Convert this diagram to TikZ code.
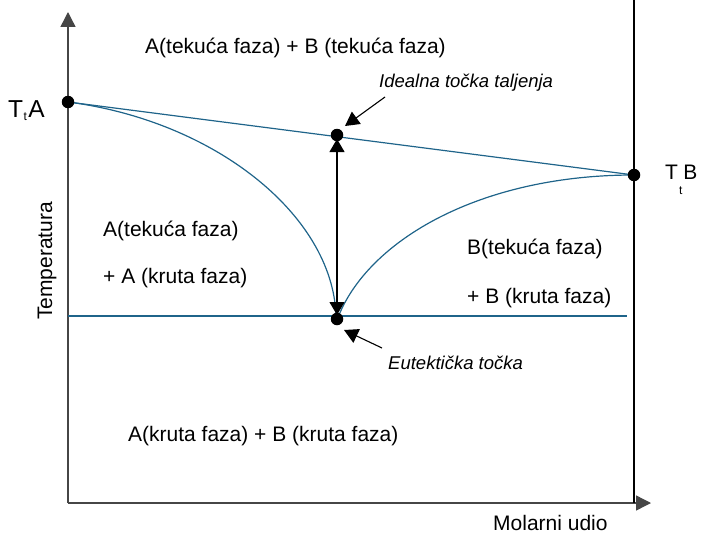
\documentclass[tikz,border=0pt]{standalone}
\usepackage{fontspec}
\setmainfont{Liberation Sans}
\usetikzlibrary{arrows.meta}
\definecolor{curvecol}{RGB}{31,100,138}
\definecolor{axiscol}{RGB}{70,70,70}
\begin{document}
\begin{tikzpicture}[x=1pt,y=-1pt,
  lbl/.style={inner sep=0pt, anchor=base west, font=\fontsize{21}{24}\selectfont},
  ilbl/.style={inner sep=0pt, anchor=base west, font=\fontsize{18.5}{22}\selectfont\itshape},
  dotn/.style={circle, fill=black, inner sep=0pt, minimum size=12.5pt},
  crv/.style={draw=curvecol, line width=1.2pt},
  axl/.style={draw=axiscol, line width=1.4pt},
  bigtip/.style={-{Triangle[length=15pt,width=15pt]}},
  ptr/.style={draw=black, line width=1.1pt, -{Triangle[length=14pt,width=15pt]}},
]
\useasboundingbox (0,0) rectangle (701,535);
% key points
\coordinate (O) at (68,503);
\coordinate (Ytop) at (68,12);
\coordinate (Xend) at (651,503);
\coordinate (Rtop) at (634,0);
\coordinate (Rbot) at (634,503);
\coordinate (pA) at (68,102);
\coordinate (pB) at (634,175);
\coordinate (pI) at (337,135);
\coordinate (pE) at (337,319);
\coordinate (eL) at (68,316);
\coordinate (eR) at (627,316);
\coordinate (c1end) at (336,315);
\coordinate (c2start) at (339,315);
\coordinate (dTop) at (337,139);
\coordinate (dBot) at (337,315);
\coordinate (iFrom) at (385,97);
\coordinate (iTo) at (345,126);
\coordinate (eFrom) at (382,348);
\coordinate (eTo) at (344,330);

% axes
\draw[axl, bigtip] (O) -- (Ytop);
\draw[axl, bigtip] (O) -- (Xend);
\draw[black, line width=1.2pt] (Rtop) -- (Rbot);

% curves and lines
\draw[crv] (pA) -- (pB);
\draw[crv] (eL) -- (eR);
\draw[crv] (pA) .. controls (215,121) and (332,215) .. (c1end);
\draw[crv] (c2start) .. controls (370,240) and (480,175) .. (pB);

% double arrow
\draw[black, line width=1.1pt, {Triangle[length=13pt,width=15pt]}-{Triangle[length=13pt,width=15pt]}] (dTop) -- (dBot);

% pointer arrows
\draw[ptr] (iFrom) -- (iTo);
\draw[ptr] (eFrom) -- (eTo);

% dots
\node[dotn] (dA) at (pA) {};
\node[dotn] (dB) at (pB) {};
\node[dotn] (dI) at (pI) {};
\node[dotn] (dE) at (pE) {};

% labels
\node[inner sep=0pt, anchor=base west, font=\fontsize{24.5}{28}\selectfont] (lTA) at (8,117)
  {T\kern0.5pt\raisebox{-3pt}{\fontsize{12}{12}\selectfont t}\kern1.5pt A};
\node[inner sep=0pt, anchor=base west, font=\fontsize{21}{25}\selectfont] (lTB) at (665,179)
  {T\kern1pt\raisebox{-15pt}{\fontsize{12}{12}\selectfont t}\kern1pt B};
\node[lbl] (top) at (145,54) {A(tekuća faza) + B (tekuća faza)};
\node[lbl] (la1) at (103,236) {A(tekuća faza)};
\node[lbl] (la2) at (103,283) {+ A (kruta faza)};
\node[lbl] (lb1) at (467,254) {B(tekuća faza)};
\node[lbl] (lb2) at (467,303) {+ B (kruta faza)};
\node[lbl] (bot) at (128,441) {A(kruta faza) + B (kruta faza)};
\node[ilbl] (ideal) at (379,88) {Idealna točka taljenja};
\node[ilbl] (eut) at (388,369) {Eutektička točka};
\node[lbl] (xlab) at (493,530) {Molarni udio};
\node[lbl, rotate=90] (ylab) at (52,320) {Temperatura};
\end{tikzpicture}
\end{document}
